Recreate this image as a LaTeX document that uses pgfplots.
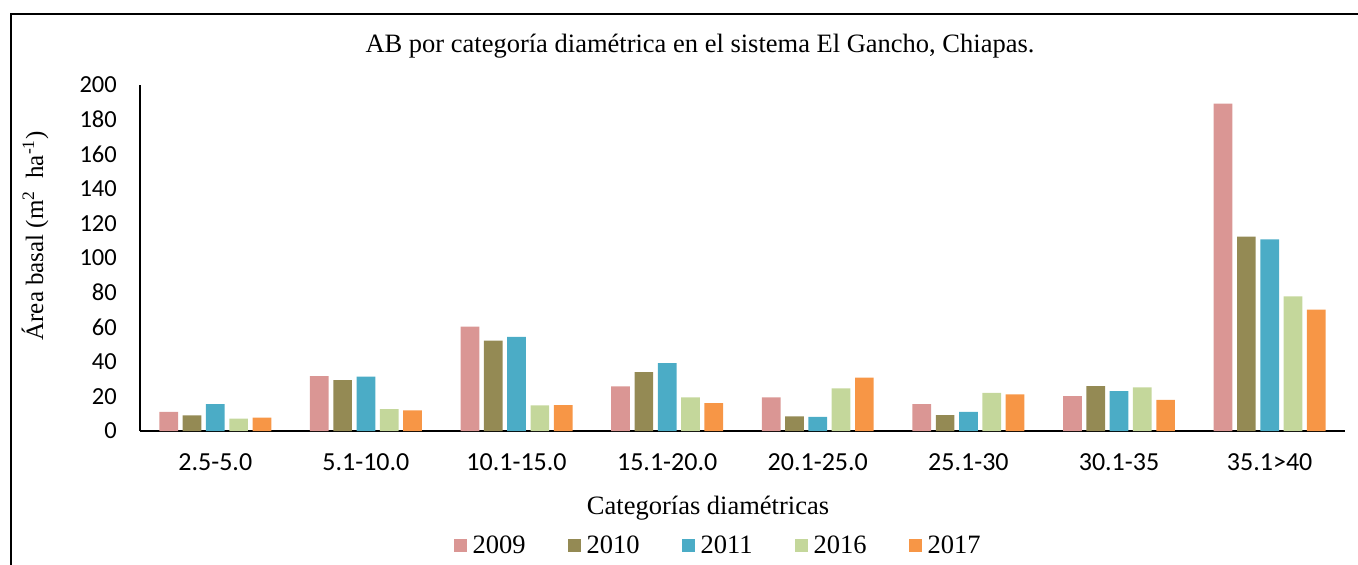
\documentclass[border=0pt]{standalone}
\usepackage{pgfplots}
\pgfplotsset{compat=1.18}
\usepackage{fontspec}
\setmainfont{Liberation Serif}
\newfontfamily\calfont{Carlito}
\definecolor{c09}{HTML}{DA9694}
\definecolor{c10}{HTML}{948A54}
\definecolor{c11}{HTML}{4BACC6}
\definecolor{c16}{HTML}{C4D79B}
\definecolor{c17}{HTML}{F79646}
\begin{document}
\begin{tikzpicture}
\useasboundingbox (0,0) rectangle (1358pt,565pt);
\draw[line width=1.5pt] (11pt,-2pt) -- (11pt,551pt) -- (1360pt,551pt);
\begin{axis}[
  at={(140pt,134pt)}, anchor=south west,
  scale only axis, width=1205pt, height=346pt,
  xmin=-0.5, xmax=7.5, ymin=0, ymax=200,
  axis x line*=bottom, axis y line*=left,
  axis line style={line width=1.5pt, black},
  ybar=4.6pt, bar width=18.7pt,
  xtick={0,...,7},
  xticklabels={2.5-5.0,5.1-10.0,10.1-15.0,15.1-20.0,20.1-25.0,25.1-30,30.1-35,35.1>40},
  ytick={0,20,...,200},
  major tick length=0pt,
  /pgf/number format/assume math mode=true,
  xticklabel style={font=\calfont\fontsize{26}{30}\selectfont, inner sep=0pt, yshift=-22pt},
  yticklabel style={font=\calfont\fontsize{24.5}{28}\selectfont, inner sep=0pt, xshift=-23pt},
  title={AB por categoría diamétrica en el sistema El Gancho, Chiapas.},
  title style={font=\fontsize{26.5}{30}\selectfont, at={(axis description cs:0.4647,1.095)}, anchor=center, inner sep=0pt},
  xlabel={Categorías diamétricas},
  xlabel style={font=\fontsize{26.5}{30}\selectfont, at={(axis description cs:0.4714,-0.2225)}, anchor=center, inner sep=0pt},
  ylabel={Área basal (m\textsuperscript{2}\ \ ha\textsuperscript{-1})},
  ylabel style={font=\fontsize{25}{30}\selectfont, at={(axis description cs:-0.0871,0.5636)}, anchor=center, inner sep=0pt, rotate=0},
  legend columns=5,
  legend style={draw=none, fill=none, font=\fontsize{26.5}{30}\selectfont,
    at={(axis description cs:0.4797,-0.3295)}, anchor=center,
    /tikz/every odd column/.append style={column sep=4pt},
    /tikz/every even column/.append style={column sep=40pt}},
  legend image code/.code={\fill[#1] (0pt,-6.5pt) rectangle (13pt,6.5pt);},
  every axis plot/.append style={draw=none},
]
\addplot[fill=c09] coordinates {(0,11.0) (1,31.7) (2,60.3) (3,25.8) (4,19.4) (5,15.6) (6,20.2) (7,189.2)};
\addplot[fill=c10] coordinates {(0,9.0) (1,29.4) (2,52.3) (3,34.0) (4,8.5) (5,9.2) (6,25.9) (7,112.4)};
\addplot[fill=c11] coordinates {(0,15.6) (1,31.5) (2,54.4) (3,39.2) (4,8.1) (5,11.0) (6,23.1) (7,110.7)};
\addplot[fill=c16] coordinates {(0,7.1) (1,12.7) (2,14.8) (3,19.4) (4,24.6) (5,22.1) (6,25.2) (7,77.8)};
\addplot[fill=c17] coordinates {(0,7.7) (1,11.9) (2,15.0) (3,16.1) (4,30.9) (5,21.2) (6,18.0) (7,70.1)};
\legend{2009,2010,2011,2016,2017}
\end{axis}
\end{tikzpicture}
\end{document}
